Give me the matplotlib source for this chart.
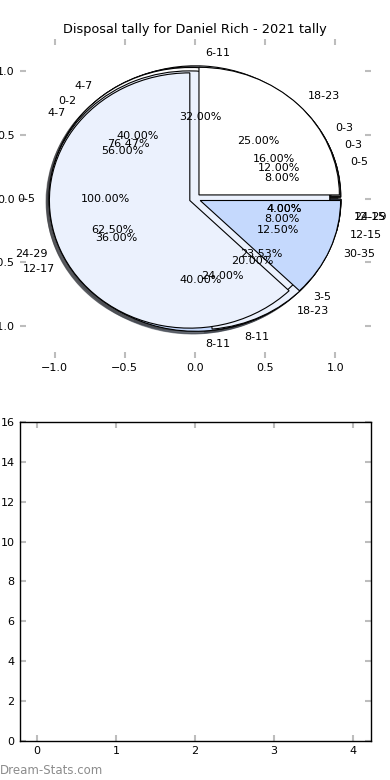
import matplotlib
matplotlib.use("Agg")
import matplotlib.pyplot as plt

# one pie per stat, all drawn on the same axes (last one ends on top)
pie_labels = [
    ["0-5", "6-11", "12-17", "18-23", "24-29"],
    ["0-3", "4-7", "8-11", "12-15"],
    ["0-3", "4-7", "8-11", "12-15"],
    ["0-2", "3-5"],
    ["0-5"],
    ["18-23", "24-29", "30-35"],
]
pie_counts = [
    [2, 8, 9, 5, 1],
    [3, 14, 6, 2],
    [4, 10, 10, 1],
    [13, 4],
    [25],
    [2, 5, 1],
]
bar_ticks = [0, 1, 2, 3, 4]
bar_yticks = [0, 2, 4, 6, 8, 10, 12, 14, 16]

white, pale, mid, deep = "#ffffff", "#ebf1fd", "#c5d9fd", "#a9c6fa"
pie_colors = [
    [white, pale, mid, pale, mid],
    [white, pale, mid, deep],
    [white, pale, mid, deep],
    [white, pale],
    [pale],
    [white, pale, mid],
]
tick_grey = "#bdbdbd"
fs = 8

fig = plt.figure(figsize=(3.9, 7.8), dpi=100)
fig.subplots_adjust(left=0.05, right=0.95, bottom=0.05, top=0.95, hspace=0.2)

ax = fig.add_subplot(2, 1, 1)
for labels, counts, cols in zip(pie_labels, pie_counts, pie_colors):
    ax.pie(
        counts, labels=labels, colors=cols,
        explode=[0.04] * len(counts), autopct="%1.2f%%",
        shadow={"ox": -0.015, "oy": -0.015},
        wedgeprops={"edgecolor": "black", "linewidth": 0.8},
        textprops={"fontsize": fs},
    )
ax.set_aspect("auto")
ax.set_frame_on(False)
ax.set_xlim(-1.25, 1.25)
ax.set_ylim(-1.25, 1.25)
ticks = [-1.0, -0.5, 0.0, 0.5, 1.0]
ax.set_xticks(ticks)
ax.set_yticks(ticks)
ax.set_xticklabels([f"{t:.1f}".replace("-", "\u2212") for t in ticks])
ax.set_yticklabels([f"{t:.1f}".replace("-", "\u2212") for t in ticks])
ax.tick_params(direction="in", length=4, color=tick_grey, width=1.5,
               labelsize=fs, top=True, right=True)
ax.set_title("Disposal tally for Daniel Rich - 2021 tally", fontsize=9.3, pad=4)

ax2 = fig.add_subplot(2, 1, 2)
ax2.set_xlim(-0.22, 4.22)
ax2.set_ylim(0, 16)
ax2.set_xticks(bar_ticks)
ax2.set_yticks(bar_yticks)
ax2.tick_params(direction="in", length=4, color=tick_grey, width=1.5,
                labelsize=fs, top=True, right=True)
for s in ax2.spines.values():
    s.set_linewidth(1.0)

fig.text(0.0, 0.004, "Dream-Stats.com", fontsize=8.5, color="#8c8c8c",
         ha="left", va="bottom")

fig.savefig("out.png", dpi=100)
